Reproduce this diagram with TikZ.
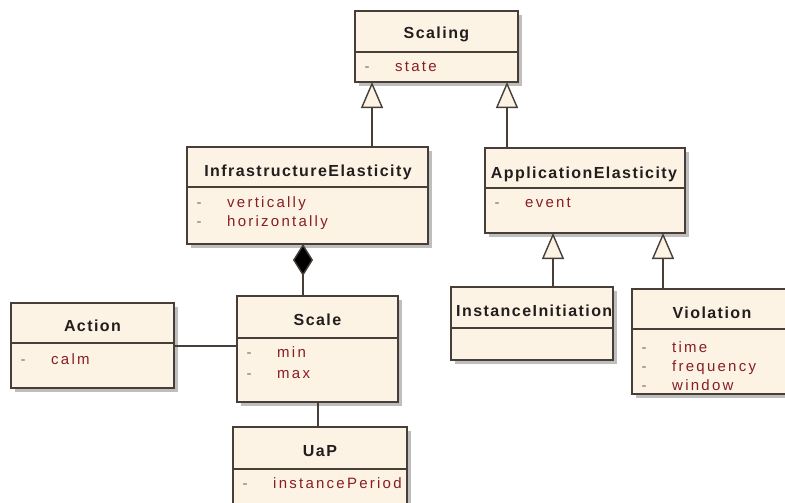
\documentclass[tikz,border=0pt]{standalone}
\usepackage{fontspec}
\setmainfont{Liberation Sans}
\newfontfamily\ttlfont[LetterSpace=9]{Liberation Sans}
\newfontfamily\attfont[LetterSpace=15]{Liberation Sans}
\usetikzlibrary{arrows.meta,calc}
\definecolor{boxfill}{RGB}{252,243,229}
\definecolor{boxline}{RGB}{70,62,55}
\definecolor{attcol}{RGB}{135,30,35}
\definecolor{dashcol}{RGB}{140,100,100}
\definecolor{shadowcol}{RGB}{190,190,190}
\definecolor{ttlcol}{RGB}{35,30,30}
\tikzset{
  classbox/.style={draw=boxline, fill=boxfill, line width=1.4pt, inner sep=0pt, outer sep=0pt, rectangle, anchor=north west},
  ttl/.style={font=\ttlfont\bfseries\fontsize{16}{19}\selectfont, text=ttlcol, inner sep=0pt, anchor=base},
  att/.style={font=\attfont\fontsize{15}{18}\selectfont, text=attcol, inner sep=0pt, anchor=base west},
  dsh/.style={font=\attfont\fontsize{15}{18}\selectfont, text=dashcol, inner sep=0pt, anchor=base},
  conn/.style={draw=boxline, line width=1.4pt},
  gen/.style={conn, -{Triangle[length=26pt,width=22pt,fill=boxfill,line width=1.4pt]}},
  comp/.style={conn, {Diamond[length=32pt,width=20pt,fill=black]}-},
}
\newcommand\umlbox[6]{%
  \fill[shadowcol] (#2+4,#3+4) rectangle (#4+4,#5+4);
  \node[classbox, minimum width={#4-#2}, minimum height={#5-#3}] (#1) at (#2,#3) {};
  \draw[boxline, line width=1.4pt] (#2,#6) -- (#4,#6);
}
\newcommand\umlattr[4]{% name, x-left, y, text
  \node[dsh] (#1-d) at (#2+12,#3+4) {-};
  \node[att] (#1) at (#2+40,#3+4) {#4};
}
\newcommand\umltitle[4]{% name, x, y, text
  \node[ttl] (#1) at (#2,#3+6) {#4};
}
\begin{document}
\begin{tikzpicture}[x=1pt,y=-1pt]
\clip (0,0) rectangle (785,503);
\fill[white] (0,0) rectangle (785,503);

% Scaling
\umlbox{scaling}{355}{11}{518}{82}{52}
\umltitle{scaling-t}{436.5}{33}{Scaling}
\umlattr{scaling-a1}{355}{68}{state}

% InfrastructureElasticity
\umlbox{infra}{187}{147}{428}{244}{187}
\umltitle{infra-t}{308}{170}{InfrastructureElasticity}
\umlattr{infra-a1}{187}{203}{vertically}
\umlattr{infra-a2}{187}{222}{horizontally}

% ApplicationElasticity
\umlbox{app}{485}{148}{685}{233}{188}
\umltitle{app-t}{584}{172}{ApplicationElasticity}
\umlattr{app-a1}{485}{203}{event}

% Action
\umlbox{action}{11}{303}{174}{388}{343}
\umltitle{action-t}{92.5}{325}{Action}
\umlattr{action-a1}{11}{360}{calm}

% Scale
\umlbox{scale}{237}{296}{398}{402}{338}
\umltitle{scale-t}{317.5}{319}{Scale}
\umlattr{scale-a1}{237}{353}{min}
\umlattr{scale-a2}{237}{374}{max}

% InstanceInitiation
\umlbox{inst}{451}{287}{613}{360}{328}
\begin{scope}
\clip (451,287) rectangle (612,328);
\node[ttl, anchor=base west] (inst-t) at (456,316) {InstanceInitiation};
\end{scope}

% Violation
\umlbox{viol}{632}{289}{792}{394}{329}
\umltitle{viol-t}{712}{312}{Violation}
\umlattr{viol-a1}{632}{348}{time}
\umlattr{viol-a2}{632}{367}{frequency}
\umlattr{viol-a3}{632}{386}{window}

% UaP
\umlbox{uap}{233}{427}{407}{530}{469}
\umltitle{uap-t}{320}{450}{UaP}
\umlattr{uap-a1}{233}{484}{instancePeriod}

% connector guides
\coordinate (x372) at (372,0);
\coordinate (x507) at (507,0);
\coordinate (x553) at (553,0);
\coordinate (x663) at (663,0);
\coordinate (x303) at (303,0);
\coordinate (x318) at (318,0);
\coordinate (y346) at (0,346);

% generalizations
\draw[gen] (infra.north -| x372) -- (scaling.south -| x372);
\draw[gen] (app.north -| x507) -- (scaling.south -| x507);
\draw[gen] (inst.north -| x553) -- (app.south -| x553);
\draw[gen] (viol.north -| x663) -- (app.south -| x663);

% composition
\draw[comp] (infra.south -| x303) -- (scale.north -| x303);

% associations
\draw[conn] (action.east |- y346) -- (scale.west |- y346);
\draw[conn] (scale.south -| x318) -- (uap.north -| x318);
\end{tikzpicture}
\end{document}
